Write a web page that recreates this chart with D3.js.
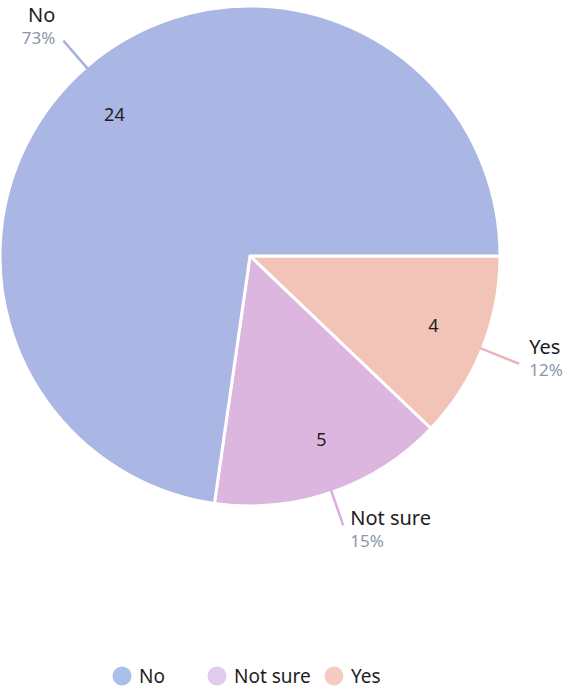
<!DOCTYPE html>
<html>
<head>
<meta charset="utf-8">
<script src="https://cdn.jsdelivr.net/npm/d3@7"></script>
<style>
  html, body { margin: 0; padding: 0; background: #ffffff; }
  svg { display: block; font-family: "Noto Sans", "Open Sans", sans-serif; }
</style>
</head>
<body>
<svg id="chart" width="568" height="689"></svg>
<script>
// Survey answers, in drawing order (clockwise from 3 o'clock)
const categories = ["Yes", "Not sure", "No"];
const counts = [4, 5, 24];
const percentLabels = ["12%", "15%", "73%"];
const sliceColors = ["#f2c3b7", "#ddb6e0", "#aab6e3"];
const lineColors = ["#eeb3b8", "#d9b0dd", "#a4b2df"];
const legendOrder = ["No", "Not sure", "Yes"];
const legendColors = ["#a9c0ea", "#e3cbec", "#f5cbc2"];

const svg = d3.select("#chart");
const cx = 250, cy = 256, R = 250;

const pie = d3.pie()
  .value(d => d.count)
  .sort(null)
  .startAngle(Math.PI / 2)
  .endAngle(Math.PI / 2 + 2 * Math.PI);

const data = categories.map((c, i) => ({
  name: c, count: counts[i], pct: percentLabels[i],
  color: sliceColors[i], line: lineColors[i]
}));
const arcs = pie(data);

const arc = d3.arc().innerRadius(0).outerRadius(R);
const g = svg.append("g").attr("transform", `translate(${cx},${cy})`);

g.selectAll("path.slice")
  .data(arcs)
  .join("path")
  .attr("class", "slice")
  .attr("d", arc)
  .attr("fill", d => d.data.color)
  .attr("stroke", "#ffffff")
  .attr("stroke-width", 3)
  .attr("stroke-linejoin", "round");

// Count labels inside each slice
const mid = d => (d.startAngle + d.endAngle) / 2;
const polar = (a, r) => [r * Math.sin(a), -r * Math.cos(a)];
const countAngleShift = { "Yes": -0.02, "Not sure": -0.04, "No": -0.05 };
g.selectAll("text.count")
  .data(arcs)
  .join("text")
  .attr("class", "count")
  .attr("transform", d => `translate(${polar(mid(d) + countAngleShift[d.data.name], 196)})`)
  .attr("text-anchor", "middle")
  .attr("dominant-baseline", "central")
  .attr("font-size", 18)
  .attr("fill", "#1e1e1e")
  .text(d => d.data.count);

// Leader lines and outside labels
const leaderEnd = { "Yes": 290, "Not sure": 285, "No": 285 };

arcs.forEach(d => {
  const a = mid(d);
  const p0 = polar(a, R - 2);
  const p1 = polar(a, leaderEnd[d.data.name]);
  g.append("line")
    .attr("x1", p0[0]).attr("y1", p0[1])
    .attr("x2", p1[0]).attr("y2", p1[1])
    .attr("stroke", d.data.line)
    .attr("stroke-width", 2.5);

  const right = Math.sin(a) > 0;
  let tx, ty;
  if (d.data.name === "No") { tx = p1[0] - 8; ty = p1[1] - 19; }
  else if (d.data.name === "Yes") { tx = p1[0] + 10; ty = p1[1] - 10; }
  else { tx = p1[0] + 7; ty = p1[1]; }
  const anchor = right ? "start" : "end";

  g.append("text")
    .attr("x", tx).attr("y", ty)
    .attr("text-anchor", anchor)
    .attr("font-size", 20)
    .attr("fill", "#1e1e1e")
    .text(d.data.name);
  g.append("text")
    .attr("x", tx).attr("y", ty + 22)
    .attr("text-anchor", anchor)
    .attr("font-size", 17)
    .attr("fill", "#8c96aa")
    .text(d.data.pct);
});

// Legend
const legendX = [122, 217, 334];
const legend = svg.append("g");
legendOrder.forEach((name, i) => {
  legend.append("circle")
    .attr("cx", legendX[i]).attr("cy", 676).attr("r", 9.5)
    .attr("fill", legendColors[i]);
  legend.append("text")
    .attr("x", legendX[i] + 17).attr("y", 676)
    .attr("dominant-baseline", "central")
    .attr("font-size", 19)
    .attr("fill", "#1e1e1e")
    .text(name);
});
</script>
</body>
</html>
